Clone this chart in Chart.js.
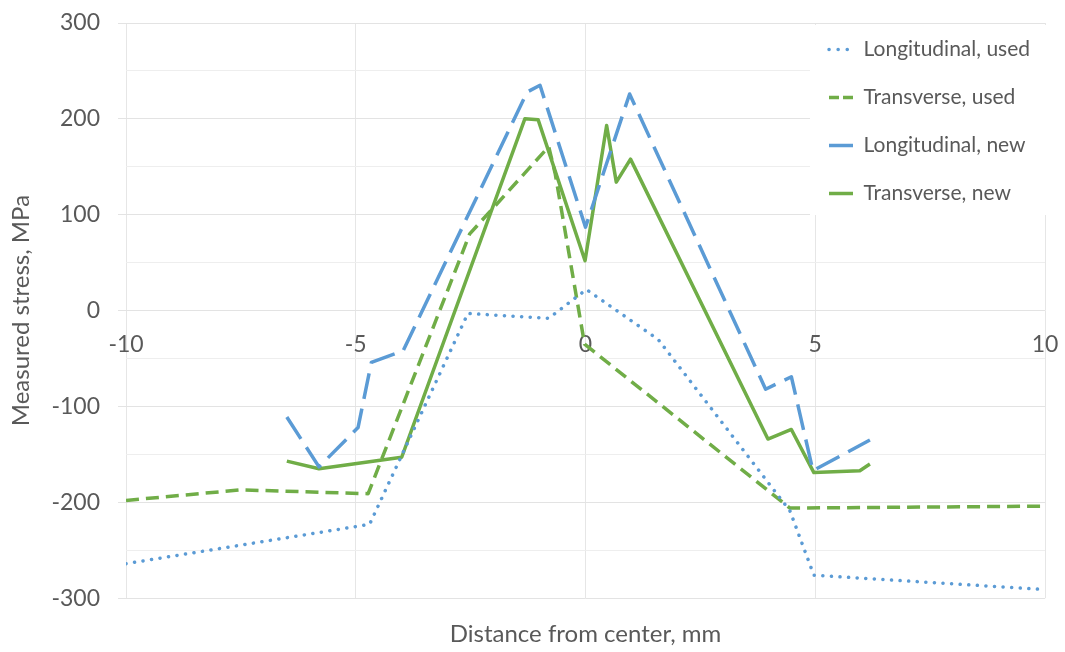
<!DOCTYPE html>
<html>
<head>
<meta charset="utf-8">
<title>Measured stress vs distance from center</title>
<script src="https://cdn.jsdelivr.net/npm/chart.js@4.4.1/dist/chart.umd.min.js"></script>
<style>
  html, body { margin: 0; padding: 0; background: #ffffff; }
  #wrap { width: 1065px; height: 652px; }
</style>
</head>
<body>
<div id="wrap"><canvas id="chart" width="1065" height="652"></canvas></div>
<script>
// Series data: distance from center (mm) and measured stress (MPa)
const seriesLabels = ['Longitudinal, used', 'Transverse, used', 'Longitudinal, new', 'Transverse, new'];

const xLongUsed  = [-10, -4.7, -2.56, -0.8, 0.02, 1.58, 4.45, 4.97, 10];
const yLongUsed  = [-264, -223, -3, -8, 22, -30, -209, -276, -291];

const xTransUsed = [-10, -7.5, -4.73, -2.52, -0.8, -0.66, -0.02, 4.45, 10];
const yTransUsed = [-198, -187, -191, 80, 171, 143, -35, -206, -204];

const xLongNew   = [-6.5, -5.8, -4.95, -4.66, -3.97, -1.27, -0.99, 0, 0.96, 3.92, 4.48, 4.95, 6.19];
const yLongNew   = [-111, -163, -122, -54, -42, 228, 235, 87, 226, -82, -69, -167, -135];

const xTransNew  = [-6.5, -5.8, -4.0, -1.32, -1.03, -0.01, 0.46, 0.67, 0.98, 3.97, 4.48, 4.97, 5.97, 6.19];
const yTransNew  = [-157, -165, -153, 200, 199, 52, 193, 134, 158, -134, -124, -169, -167, -160];

// Axis ticks
const xTickValues = [-10, -5, 0, 5, 10];
const yTickLabels = [-300, -200, -100, 0, 100, 200, 300];
const yGridValues = [-300, -250, -200, -150, -100, -50, 0, 50, 100, 150, 200, 250, 300];

const BLUE = '#5b9bd5';
const GREEN = '#70ad47';
const TEXT = '#595959';
const FONT = 'Lato';

function pairUp(xs, ys) {
  return xs.map((x, i) => ({ x: x, y: ys[i] }));
}

const lineStyles = [
  { color: BLUE,  dash: [0.1, 8.5], cap: 'round', legendDash: [0.1, 9],  legendCap: 'round' },
  { color: GREEN, dash: [13, 7],    cap: 'butt',  legendDash: [10, 4],   legendCap: 'butt' },
  { color: BLUE,  dash: [26, 10],   cap: 'butt',  legendDash: [],        legendCap: 'butt' },
  { color: GREEN, dash: [],         cap: 'butt',  legendDash: [],        legendCap: 'butt' }
];

const seriesData = [
  pairUp(xLongUsed, yLongUsed),
  pairUp(xTransUsed, yTransUsed),
  pairUp(xLongNew, yLongNew),
  pairUp(xTransNew, yTransNew)
];

const datasets = seriesData.map((pts, i) => ({
  label: seriesLabels[i],
  data: pts,
  showLine: true,
  borderColor: lineStyles[i].color,
  backgroundColor: lineStyles[i].color,
  borderWidth: 3.5,
  borderDash: lineStyles[i].dash,
  borderCapStyle: lineStyles[i].cap,
  borderJoinStyle: 'round',
  pointRadius: 0,
  pointHoverRadius: 0,
  tension: 0,
  fill: false
}));

// Places the legend inside the plot's upper right corner on a white panel
const legendPlacement = {
  id: 'legendPlacement',
  afterLayout(chart) {
    const lg = chart.legend;
    if (!lg) return;
    const h = lg.height;
    lg.left = 802;
    lg.top = 12;
    lg.right = lg.left + lg.width;
    lg.bottom = lg.top + h;
    if (!lg._panelWrapped) {
      const baseDraw = lg.draw.bind(lg);
      lg.draw = function () {
        const ctx = chart.ctx;
        ctx.save();
        ctx.fillStyle = '#ffffff';
        ctx.fillRect(810, 25, 240, 190);
        ctx.restore();
        baseDraw();
      };
      lg._panelWrapped = true;
    }
  }
};

new Chart(document.getElementById('chart'), {
  type: 'scatter',
  data: { datasets: datasets },
  plugins: [legendPlacement],
  options: {
    responsive: false,
    devicePixelRatio: 1,
    animation: false,
    events: [],
    layout: { padding: { left: 0, right: 20, top: 23, bottom: 0 } },
    scales: {
      x: {
        type: 'linear',
        position: { y: 0 },
        min: -10,
        max: 10,
        afterBuildTicks(scale) { scale.ticks = xTickValues.map(v => ({ value: v })); },
        border: { display: false },
        grid: {
          color: '#e6e6e6',
          lineWidth: 1,
          drawTicks: true,
          tickLength: 20,
          tickColor: 'rgba(0,0,0,0)'
        },
        ticks: {
          color: TEXT,
          font: { family: FONT, size: 23 },
          padding: 0,
          maxRotation: 0,
          callback: v => String(v)
        }
      },
      y: {
        type: 'linear',
        position: 'left',
        min: -300,
        max: 300,
        afterBuildTicks(scale) { scale.ticks = yGridValues.map(v => ({ value: v })); },
        afterFit(scale) { scale.width = 126; },
        border: { display: false },
        grid: {
          color: ctx => (ctx.tick && yTickLabels.includes(ctx.tick.value)) ? '#e3e3e3' : '#eeeeee',
          tickColor: ctx => (ctx.tick && yTickLabels.includes(ctx.tick.value)) ? '#e3e3e3' : 'rgba(0,0,0,0)',
          lineWidth: 1,
          tickLength: 8
        },
        ticks: {
          color: TEXT,
          font: { family: FONT, size: 23, lineHeight: 0.4 },
          padding: 18,
          callback: v => yTickLabels.includes(v) ? String(v) : ''
        },
        title: {
          display: true,
          text: 'Measured stress, MPa',
          color: TEXT,
          font: { family: FONT, size: 24 },
          padding: { top: 7, bottom: 0 }
        }
      }
    },
    plugins: {
      tooltip: { enabled: false },
      title: {
        display: true,
        position: 'bottom',
        fullSize: false,
        text: 'Distance from center, mm',
        color: TEXT,
        font: { family: FONT, size: 24, weight: 'normal' },
        padding: { top: 22, bottom: 3 }
      },
      legend: {
        display: true,
        position: 'chartArea',
        align: 'start',
        labels: {
          color: TEXT,
          font: { family: FONT, size: 21 },
          usePointStyle: true,
          pointStyleWidth: 24,
          boxHeight: 21,
          padding: 27,
          generateLabels(chart) {
            return chart.data.datasets.map((ds, i) => ({
              text: ds.label,
              fillStyle: lineStyles[i].color,
              strokeStyle: lineStyles[i].color,
              lineWidth: 3.5,
              lineDash: lineStyles[i].legendDash,
              lineCap: lineStyles[i].legendCap,
              pointStyle: 'line',
              fontColor: TEXT,
              hidden: false,
              datasetIndex: i
            }));
          }
        }
      }
    }
  }
});
</script>
</body>
</html>
